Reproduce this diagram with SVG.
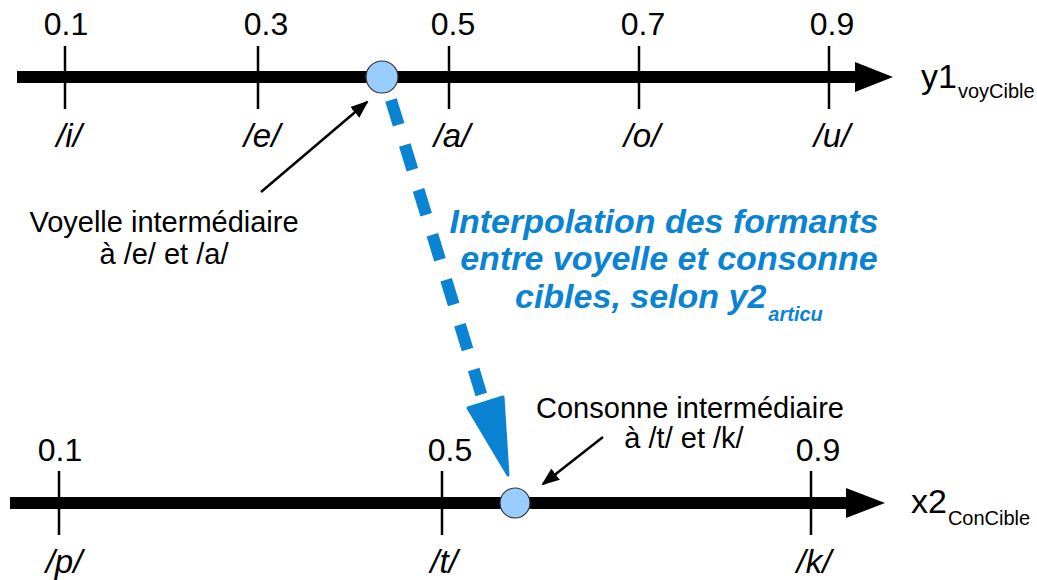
<svg xmlns="http://www.w3.org/2000/svg" width="1037" height="580" viewBox="0 0 1037 580">
<style>
.axis{stroke:#000;stroke-width:12;fill:none}
.tick{stroke:#000;stroke-width:2.5}
.num{font-family:"Liberation Sans",Arial,sans-serif;font-size:32px;fill:#000;text-anchor:middle}
.ph{font-family:"Liberation Sans",Arial,sans-serif;font-size:33px;font-style:italic;fill:#000;text-anchor:middle}
.lbl{font-family:"Liberation Sans",Arial,sans-serif;font-size:29px;fill:#000;text-anchor:middle}
.ax{font-family:"Liberation Sans",Arial,sans-serif;font-size:34px;fill:#000}
.sub{font-size:20px}
.blue{font-family:"Liberation Sans",Arial,sans-serif;font-size:34px;font-weight:bold;font-style:italic;fill:#0a84d2}
.pt{fill:#99ccff;stroke:#333;stroke-width:1.2}
.ptr{stroke:#000;stroke-width:2.5;fill:none}
</style>
<defs>
<marker id="ah" viewBox="0 0 18 14" refX="16" refY="7" markerWidth="18" markerHeight="14" markerUnits="userSpaceOnUse" orient="auto">
<path d="M0,0 L18,7 L0,14 z" fill="#000"/>
</marker>
</defs>

<g id="axis-y1">
<line class="axis" x1="17" y1="77" x2="858" y2="77"/>
<polygon points="855,62 893,77 855,92" fill="#000"/>
<line class="tick" x1="65" y1="46" x2="65" y2="109"/>
<line class="tick" x1="258" y1="46" x2="258" y2="109"/>
<line class="tick" x1="449" y1="46" x2="449" y2="109"/>
<line class="tick" x1="639" y1="46" x2="639" y2="109"/>
<line class="tick" x1="829" y1="46" x2="829" y2="109"/>
<text class="num" x="66" y="35">0.1</text>
<text class="num" x="266" y="35">0.3</text>
<text class="num" x="453" y="35">0.5</text>
<text class="num" x="643" y="35">0.7</text>
<text class="num" x="832" y="35">0.9</text>
<text class="ph" x="69" y="147">/i/</text>
<text class="ph" x="262" y="147">/e/</text>
<text class="ph" x="452" y="147">/a/</text>
<text class="ph" x="642" y="147">/o/</text>
<text class="ph" x="832" y="147">/u/</text>
<text class="ax" x="921" y="88">y1<tspan class="sub" dx="1" dy="10">voyCible</tspan></text>
</g>

<g id="axis-x2">
<line class="axis" x1="10" y1="503" x2="850" y2="503"/>
<polygon points="846,488 885,503 846,518" fill="#000"/>
<line class="tick" x1="59" y1="471" x2="59" y2="535"/>
<line class="tick" x1="442" y1="471" x2="442" y2="535"/>
<line class="tick" x1="811" y1="471" x2="811" y2="535"/>
<text class="num" x="60" y="461">0.1</text>
<text class="num" x="450" y="461">0.5</text>
<text class="num" x="818" y="461">0.9</text>
<text class="ph" x="64" y="573">/p/</text>
<text class="ph" x="444" y="573">/t/</text>
<text class="ph" x="814" y="573">/k/</text>
<text class="ax" x="911" y="513">x2<tspan class="sub" dx="1" dy="12">ConCible</tspan></text>
</g>

<g id="node-voyelle">
<circle class="pt" cx="382" cy="77" r="16"/>
<text class="lbl" x="164" y="232">Voyelle intermédiaire</text>
<text class="lbl" x="164" y="264">à /e/ et /a/</text>
</g>

<g id="node-consonne">
<circle class="pt" cx="515" cy="503" r="15"/>
<text class="lbl" x="690" y="418">Consonne intermédiaire</text>
<text class="lbl" x="684" y="448">à /t/ et /k/</text>
</g>

<g id="label-interp">
<text class="blue" x="664" y="233" text-anchor="middle">Interpolation des formants</text>
<text class="blue" x="669" y="270" text-anchor="middle">entre voyelle et consonne</text>
<text class="blue" x="515" y="308">cibles, selon y2<tspan font-size="20" dx="2" dy="13">articu</tspan></text>
</g>

<g id="connectors">
<line class="ptr" x1="261" y1="192" x2="367" y2="102" marker-end="url(#ah)"/>
<line class="ptr" x1="603" y1="437" x2="543" y2="484" marker-end="url(#ah)"/>
<line x1="391" y1="100" x2="483" y2="400" stroke="#0a84d2" stroke-width="12" stroke-dasharray="26,21"/>
<polygon points="468,408 503,397 508,475" fill="#0a84d2" stroke="#0a84d2" stroke-width="3" stroke-linejoin="round"/>
</g>
</svg>
